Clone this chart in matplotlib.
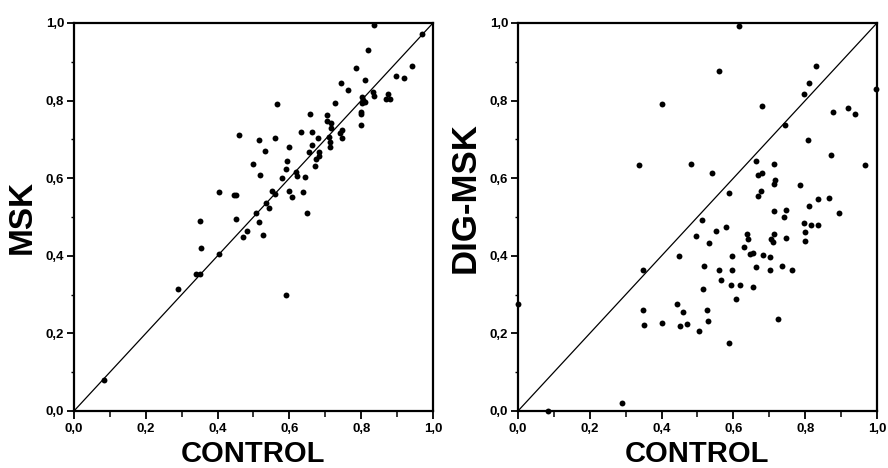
import matplotlib
matplotlib.use("Agg")
import matplotlib.pyplot as plt
from matplotlib.ticker import MultipleLocator, FuncFormatter

# ---- data ----
msk_control = [0.836, 0.968, 0.818, 0.941, 0.785, 0.812, 0.897, 0.920, 0.743, 0.764,
               0.832, 0.837, 0.874, 0.880, 0.868, 0.801, 0.806, 0.812, 0.802, 0.799,
               0.799, 0.799, 0.726, 0.565, 0.658, 0.706, 0.704, 0.715, 0.717, 0.461,
               0.516, 0.561, 0.631, 0.663, 0.747, 0.741, 0.746, 0.709, 0.712, 0.713,
               0.681, 0.532, 0.598, 0.663, 0.654, 0.682, 0.683, 0.674, 0.671, 0.593,
               0.499, 0.590, 0.619, 0.621, 0.519, 0.580, 0.644, 0.403, 0.445, 0.452,
               0.552, 0.559, 0.598, 0.608, 0.639, 0.534, 0.542, 0.506, 0.648, 0.351,
               0.450, 0.514, 0.483, 0.471, 0.527, 0.354, 0.403, 0.340, 0.350, 0.290,
               0.590, 0.084]
msk_values = [0.995, 0.971, 0.931, 0.890, 0.885, 0.852, 0.864, 0.858, 0.845, 0.826,
              0.821, 0.812, 0.818, 0.803, 0.803, 0.810, 0.802, 0.796, 0.793, 0.771,
              0.765, 0.737, 0.793, 0.791, 0.765, 0.763, 0.747, 0.741, 0.729, 0.711,
              0.698, 0.704, 0.720, 0.720, 0.724, 0.716, 0.704, 0.706, 0.694, 0.681,
              0.704, 0.669, 0.680, 0.686, 0.668, 0.668, 0.657, 0.649, 0.631, 0.645,
              0.637, 0.623, 0.617, 0.606, 0.607, 0.601, 0.604, 0.565, 0.557, 0.556,
              0.568, 0.559, 0.567, 0.552, 0.564, 0.535, 0.524, 0.511, 0.510, 0.490,
              0.496, 0.488, 0.463, 0.448, 0.453, 0.419, 0.404, 0.352, 0.354, 0.314,
              0.299, 0.081]

dig_control = [0.617, 0.559, 0.829, 0.811, 0.797, 0.997, 0.400, 0.681, 0.877, 0.918,
               0.940, 0.744, 0.808, 0.873, 0.967, 0.338, 0.481, 0.540, 0.662, 0.714,
               0.669, 0.679, 0.716, 0.714, 0.785, 0.589, 0.677, 0.669, 0.837, 0.866,
               0.811, 0.712, 0.747, 0.895, 0.741, 0.513, 0.798, 0.816, 0.836, 0.579,
               0.551, 0.497, 0.799, 0.637, 0.642, 0.706, 0.713, 0.710, 0.746, 0.799,
               0.531, 0.630, 0.645, 0.656, 0.683, 0.703, 0.448, 0.596, 0.517, 0.662,
               0.735, 0.762, 0.703, 0.596, 0.559, 0.348, 0.565, 0.592, 0.618, 0.654,
               0.514, 0.606, 0.444, 0.349, 0.526, 0.459, 0.530, 0.352, 0.400, 0.451,
               0.470, 0.505, 0.724, 0.588, 0.289, 0.083, 0.000]
dig_values = [0.991, 0.876, 0.889, 0.846, 0.817, 0.831, 0.792, 0.786, 0.770, 0.780,
              0.765, 0.736, 0.698, 0.659, 0.635, 0.633, 0.637, 0.614, 0.645, 0.636,
              0.607, 0.613, 0.595, 0.584, 0.582, 0.561, 0.568, 0.555, 0.546, 0.548,
              0.529, 0.516, 0.517, 0.511, 0.499, 0.491, 0.484, 0.479, 0.479, 0.475,
              0.465, 0.450, 0.461, 0.456, 0.442, 0.442, 0.456, 0.436, 0.446, 0.439,
              0.432, 0.422, 0.405, 0.407, 0.402, 0.397, 0.399, 0.399, 0.374, 0.371,
              0.374, 0.364, 0.363, 0.363, 0.363, 0.363, 0.338, 0.325, 0.324, 0.320,
              0.314, 0.288, 0.275, 0.260, 0.261, 0.254, 0.231, 0.222, 0.227, 0.218,
              0.224, 0.205, 0.238, 0.174, 0.021, 0.000, 0.276]

x_label = "CONTROL"
y_labels = ["MSK", "DIG-MSK"]
identity = [0.0, 1.0]

label_font = ["Liberation Sans", "DejaVu Sans"]
tick_font = ["Liberation Sans Narrow", "Liberation Sans", "DejaVu Sans"]

fig = plt.figure(figsize=(8.88, 4.68), dpi=100)
ax1 = fig.add_axes([0.0833, 0.1218, 0.4043, 0.8291])
ax2 = fig.add_axes([0.5833, 0.1218, 0.4043, 0.8291])

fmt = FuncFormatter(lambda v, p: f"{v:.1f}".replace(".", ","))

panels = [(ax1, msk_control, msk_values, y_labels[0], 24, 0.50),
          (ax2, dig_control, dig_values, y_labels[1], 25, 0.55)]
for ax, xs, ys, yl, yfs, ypos in panels:
    ax.plot(identity, identity, color="black", lw=0.9, zorder=2)
    ax.scatter(xs, ys, s=18, color="black", linewidths=0, zorder=3, clip_on=False)
    ax.set_xlim(0, 1)
    ax.set_ylim(0, 1)
    for sp in ax.spines.values():
        sp.set_linewidth(1.6)
    ax.xaxis.set_major_locator(MultipleLocator(0.2))
    ax.xaxis.set_minor_locator(MultipleLocator(0.1))
    ax.yaxis.set_major_locator(MultipleLocator(0.2))
    ax.yaxis.set_minor_locator(MultipleLocator(0.1))
    ax.xaxis.set_major_formatter(fmt)
    ax.yaxis.set_major_formatter(fmt)
    ax.tick_params(axis="x", which="major", direction="out", length=6, width=1.3, pad=3)
    ax.tick_params(axis="x", which="minor", direction="out", length=4, width=1.1)
    ax.tick_params(axis="y", which="major", direction="out", length=5, width=1.3, pad=2)
    ax.tick_params(axis="y", which="minor", direction="out", length=2.5, width=1.0)
    for t in ax.get_xticklabels() + ax.get_yticklabels():
        t.set_fontfamily(tick_font)
        t.set_fontweight("bold")
        t.set_fontsize(9.5)
    ax.set_xlabel(x_label, fontsize=21, fontweight="bold", family=label_font)
    ax.set_ylabel(yl, fontsize=yfs, fontweight="bold", family=label_font)
    ax.xaxis.set_label_coords(0.5, -0.075)
    ax.yaxis.set_label_coords(-0.1, ypos)

fig.savefig("out.png", dpi=100)
